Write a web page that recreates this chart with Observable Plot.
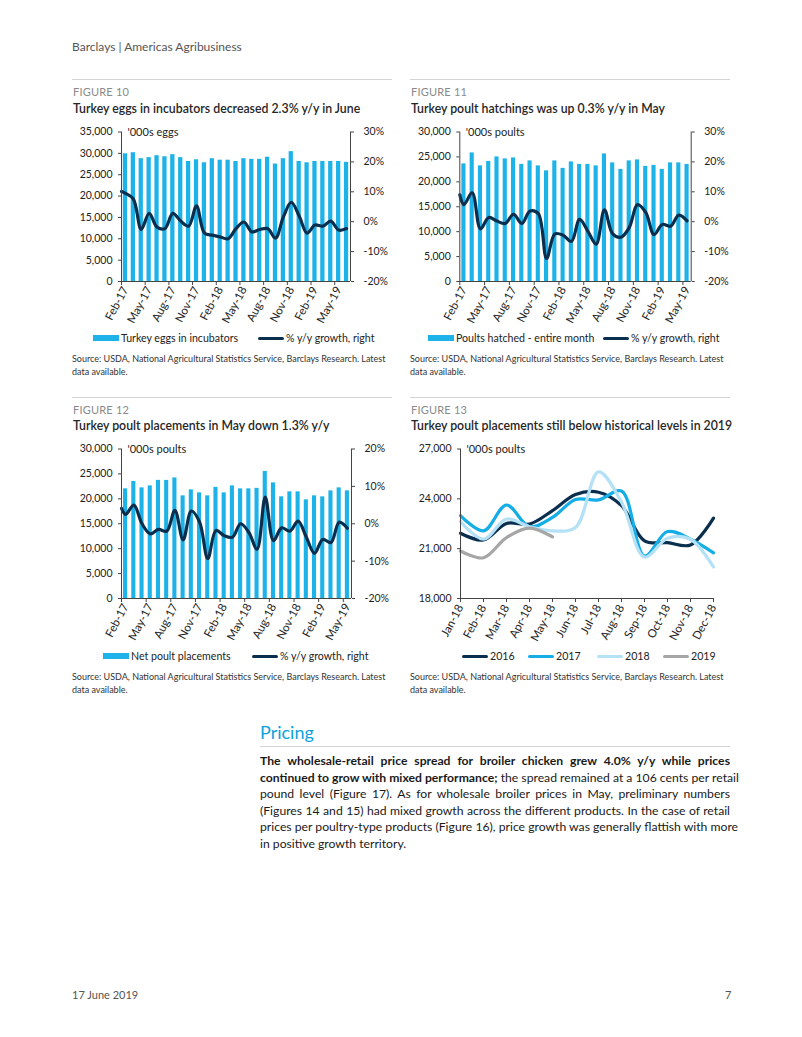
<!DOCTYPE html>
<html><head><meta charset="utf-8">
<script src="https://cdn.jsdelivr.net/npm/d3@7"></script>
<script src="https://cdn.jsdelivr.net/npm/@observablehq/plot@0.6"></script>
<style>
body{margin:0;background:#fff;}
#page{position:relative;width:802px;height:1037px;font-family:Lato,"Open Sans",sans-serif;color:#222;overflow:hidden;background:#fff}
.t{position:absolute;white-space:nowrap}
.sep{position:absolute;height:1px;background:#d4d4d4}
.chart{position:absolute}
.para{position:absolute;left:260px;width:470px;font-size:12.2px;line-height:16.6px;color:#1a1a1a}
.para div{text-align:justify;text-align-last:justify;white-space:nowrap}
.para div.last{text-align-last:left}
</style></head>
<body><div id="page"></div>
<script>
// ---------- DATA ----------
const months29 = ["Feb-17","Mar-17","Apr-17","May-17","Jun-17","Jul-17","Aug-17","Sep-17","Oct-17","Nov-17","Dec-17","Jan-18","Feb-18","Mar-18","Apr-18","May-18","Jun-18","Jul-18","Aug-18","Sep-18","Oct-18","Nov-18","Dec-18","Jan-19","Feb-19","Mar-19","Apr-19","May-19","Jun-19"];
const months28 = ["Feb-17","Mar-17","Apr-17","May-17","Jun-17","Jul-17","Aug-17","Sep-17","Oct-17","Nov-17","Dec-17","Jan-18","Feb-18","Mar-18","Apr-18","May-18","Jun-18","Jul-18","Aug-18","Sep-18","Oct-18","Nov-18","Dec-18","Jan-19","Feb-19","Mar-19","Apr-19","May-19"];
const months13 = ["Jan-18","Feb-18","Mar-18","Apr-18","May-18","Jun-18","Jul-18","Aug-18","Sep-18","Oct-18","Nov-18","Dec-18"];

// Figure 10
const eggs = [29900,30150,28750,29000,29450,29200,29700,29000,28100,28500,27800,28750,28400,28400,28100,28750,28600,28600,29100,27500,28750,30400,28100,27800,28100,28100,28100,28100,27900];
const eggsGrowthStart = 10.1;
const eggsGrowth = [9.5,7.6,-2.6,2.8,-1.8,-2.3,2.8,0.2,-1.5,5.3,-3.8,-4.5,-5.1,-5.7,-2.3,-0.1,-3.4,-2.6,-2.3,-5.5,1.6,6.5,1.9,-3.8,-1.1,-1.5,0.2,-2.8,-2.3];

// Figure 11
const hatched = [23600,25800,23200,24100,25000,24600,24800,23500,24200,23200,22200,24200,22700,24000,23500,23500,23200,25600,23800,22500,24200,24400,23100,23300,22500,23800,23800,23500];
const hatchedGrowthStart = 9.0;
const hatchedGrowth = [5.7,9.7,-2.4,1.4,0.2,-0.6,2.5,-0.6,3.6,2.7,-12.3,-4.1,-4.5,-6.6,0.8,-3.2,-7.5,4.0,-4.1,-5.2,-2.0,5.7,3.1,-4.3,-0.9,-1.5,2.2,0.3];

// Figure 12
const placed = [22000,23500,22200,22600,23700,23700,24200,20600,21800,21200,20600,22300,21200,22600,22000,22000,22100,25500,23200,20400,21400,21400,19800,20600,20400,21600,22200,21600];
const placedGrowthStart = 4.1;
const placedGrowth = [2.5,5.0,0.0,-2.7,-1.5,-2.0,3.6,-4.3,3.4,0.5,-9.3,-1.8,-3.2,-3.6,0.0,-2.3,-6.8,7.1,-4.5,-1.1,-2.0,0.7,-3.6,-7.9,-4.2,-5.0,0.4,-1.2];

// Figure 13
const years13 = ["2016","2017","2018","2019"];
const p2016 = [21930,21520,22520,22480,23290,24260,24400,23590,21470,21360,21220,22840];
const p2017 = [22990,22070,23630,22320,22880,23960,23940,24470,20550,22030,21570,20750];
const p2018 = [22640,21570,22780,22320,22070,22270,25620,23800,20490,21630,21570,19900];
const p2019 = [20860,20450,21670,22240,21710];

// ---------- STYLE ----------
const BAR = "#1DB3E8", NAVY = "#0A2E4D";
const YEAR_COLORS = ["#0A2E4D","#14ADE6","#B4E1F5","#A6A6A6"];
const FONT = "Lato, 'Open Sans', sans-serif";
const page = document.getElementById("page");

function txt(s, left, top, css) {
  const d = document.createElement("div");
  d.className = "t"; d.textContent = s;
  d.style.left = left + "px"; d.style.top = top + "px";
  Object.assign(d.style, css || {});
  page.appendChild(d); return d;
}
function sep(left, top, width) {
  const d = document.createElement("div"); d.className = "sep";
  d.style.left = left + "px"; d.style.top = top + "px"; d.style.width = width + "px";
  page.appendChild(d);
}
function swatch(left, centerY, type, color) {
  const d = document.createElement("div");
  d.style.position = "absolute"; d.style.left = left + "px"; d.style.width = "26px";
  const h = type === "bar" ? 6 : 3;
  d.style.height = h + "px"; d.style.top = (centerY - h / 2) + "px"; d.style.background = color;
  if (type === "line") d.style.borderRadius = "1.5px";
  page.appendChild(d);
}
function place(svg, left, top) {
  const w = document.createElement("div"); w.className = "chart";
  w.style.left = left + "px"; w.style.top = top + "px";
  w.appendChild(svg); page.appendChild(w);
}

const plotStyle = {fontFamily: FONT, fontSize: "10.5px", color: "#222", background: "transparent", overflow: "visible"};

function dualChart({labels, bars, growth, growthStart, barMax, barStep, gMin, gMax, unit, mLeft, mRight, barHalf}) {
  const N = labels.length;
  const toY = g => (g - gMin) / (gMax - gMin) * barMax;
  const barData = bars.map((v, i) => ({i, v}));
  const lineData = [{i: -0.5, g: growthStart}].concat(growth.map((g, i) => ({i, g})));
  const barTicks = d3.range(0, barMax + 1, barStep);
  const gTicks = d3.range(gMin, gMax + 1, 10);
  const labelIdx = d3.range(0, N, 3);
  return Plot.plot({
    width: 320, height: 205,
    marginLeft: mLeft, marginRight: mRight, marginTop: 11.5, marginBottom: 44,
    style: plotStyle,
    x: {domain: [-0.5, N - 0.5], axis: null},
    y: {domain: [0, barMax], axis: null},
    marks: [
      Plot.rectY(barData, {x1: d => d.i - barHalf, x2: d => d.i + barHalf, y: "v", fill: BAR}),
      Plot.line(lineData, {x: "i", y: d => toY(d.g), stroke: NAVY, strokeWidth: 3.2, curve: "catmull-rom", strokeLinecap: "round"}),
      Plot.ruleX([-0.5, N - 0.5], {stroke: "#444", strokeWidth: 1}),
      Plot.ruleY([0], {stroke: "#444", strokeWidth: 1}),
      Plot.axisY({anchor: "left", ticks: barTicks, tickFormat: d3.format(","), tickSize: 3, tickPadding: 6, label: null, stroke: "#444"}),
      Plot.axisY({anchor: "right", ticks: gTicks.map(toY), tickFormat: y => Math.round(gMin + y / barMax * (gMax - gMin)) + "%", tickSize: 3, tickPadding: 10, label: null, stroke: "#444"}),
      Plot.axisX({ticks: labelIdx.map(i => i - 0.5), tickFormat: () => "", tickSize: 4, label: null, stroke: "#444"}),
      Plot.axisX({ticks: labelIdx, tickFormat: i => labels[i], tickSize: 0, tickPadding: 6, tickRotate: -62, label: null, fontSize: 11.5}),
      Plot.text([unit], {frameAnchor: "top-left", dx: 6, dy: 0, lineAnchor: "middle", textAnchor: "start", fontSize: 11, fill: "#222"})
    ]
  });
}

// ---------- PAGE ----------
txt("Barclays | Americas Agribusiness", 72, 38.5, {fontSize: "12px", color: "#555"});

function header(left, top, fig, title) {
  sep(left, top, 320);
  txt(fig, left + 1, top + 6, {fontSize: "11px", color: "#8a8a8a", letterSpacing: "0.2px"});
  txt(title, left + 1, top + 21.5, {fontSize: "12.3px", color: "#262626", fontWeight: "600"});
}
function source(left, top) {
  const d = txt("", left, top, {fontSize: "9px", color: "#333", lineHeight: "13px", whiteSpace: "normal", width: "330px"});
  d.innerHTML = "Source: USDA, National Agricultural Statistics Service, Barclays Research. Latest<br>data available.";
}

// Figure 10
header(72, 79, "FIGURE 10", "Turkey eggs in incubators decreased 2.3% y/y in June");
place(dualChart({labels: months29, bars: eggs, growth: eggsGrowth, growthStart: eggsGrowthStart, barMax: 35000, barStep: 5000, gMin: -20, gMax: 30, unit: "'000s eggs", mLeft: 49, mRight: 42, barHalf: 0.27}), 72, 120);
swatch(93, 338, "bar", BAR); txt("Turkey eggs in incubators", 121, 331.5, {fontSize: "10.6px"});
swatch(258, 338, "line", NAVY); txt("% y/y growth, right", 286, 331.5, {fontSize: "10.6px"});
source(72, 351.5);

// Figure 11
header(410, 79, "FIGURE 11", "Turkey poult hatchings was up 0.3% y/y in May");
place(dualChart({labels: months28, bars: hatched, growth: hatchedGrowth, growthStart: hatchedGrowthStart, barMax: 30000, barStep: 5000, gMin: -20, gMax: 30, unit: "'000s poults", mLeft: 49.3, mRight: 39.3, barHalf: 0.25}), 410, 120);
swatch(428, 338, "bar", BAR); txt("Poults hatched - entire month", 456, 331.5, {fontSize: "10.6px"});
swatch(603, 338, "line", NAVY); txt("% y/y growth, right", 631, 331.5, {fontSize: "10.6px"});
source(410, 351.5);

// Figure 12
header(72, 396.5, "FIGURE 12", "Turkey poult placements in May down 1.3% y/y");
place(dualChart({labels: months28, bars: placed, growth: placedGrowth, growthStart: placedGrowthStart, barMax: 30000, barStep: 5000, gMin: -20, gMax: 20, unit: "'000s poults", mLeft: 49, mRight: 41, barHalf: 0.25}), 72, 437);
swatch(103, 656, "bar", BAR); txt("Net poult placements", 131, 649.5, {fontSize: "10.6px"});
swatch(252, 656, "line", NAVY); txt("% y/y growth, right", 280, 649.5, {fontSize: "10.6px"});
source(72, 669.5);

// Figure 13
header(410, 396.5, "FIGURE 13", "Turkey poult placements still below historical levels in 2019");
const series13 = [p2016, p2017, p2018, p2019];
const fig13 = Plot.plot({
  width: 320, height: 205,
  marginLeft: 50, marginRight: 16.7, marginTop: 11.5, marginBottom: 44,
  style: plotStyle,
  x: {type: "point", domain: months13, padding: 0, axis: null},
  y: {domain: [18000, 27000], axis: null},
  marks: [
    ...series13.map((vals, k) => Plot.line(vals.map((v, i) => ({m: months13[i], v})), {x: "m", y: "v", stroke: YEAR_COLORS[k], strokeWidth: 3.2, curve: "catmull-rom", strokeLinecap: "round"})),
    Plot.ruleX([months13[0]], {stroke: "#444"}),
    Plot.ruleY([18000], {stroke: "#444"}),
    Plot.axisY({anchor: "left", ticks: [18000, 21000, 24000, 27000], tickFormat: d3.format(","), tickSize: 3, tickPadding: 6, label: null, stroke: "#444"}),
    Plot.axisX({ticks: months13, tickSize: 4, tickPadding: 3, tickRotate: -62, label: null, stroke: "#444", fontSize: 11.5}),
    Plot.text(["'000s poults"], {frameAnchor: "top-left", dx: 6, lineAnchor: "middle", textAnchor: "start", fontSize: 11, fill: "#222"})
  ]
});
place(fig13, 410, 437);
const legX13 = [462, 528, 597, 663];
years13.forEach((y, k) => { swatch(legX13[k], 656, "line", YEAR_COLORS[k]); txt(y, legX13[k] + 28, 649.5, {fontSize: "10.6px"}); });
source(410, 669.5);

// Pricing section
txt("Pricing", 260, 721, {fontSize: "18px", color: "#0BA2DC"});
sep(260, 746, 470);
const para = document.createElement("div"); para.className = "para"; para.style.top = "753px";
para.innerHTML = [
  "<div><b>The wholesale-retail price spread for broiler chicken grew 4.0% y/y while prices</b></div>",
  "<div><b>continued to grow with mixed performance;</b> the spread remained at a 106 cents per retail</div>",
  "<div>pound level (Figure 17). As for wholesale broiler prices in May, preliminary numbers</div>",
  "<div>(Figures 14 and 15) had mixed growth across the different products. In the case of retail</div>",
  "<div>prices per poultry-type products (Figure 16), price growth was generally flattish with more</div>",
  "<div class='last'>in positive growth territory.</div>"
].join("");
page.appendChild(para);

// Footer
txt("17 June 2019", 72, 988, {fontSize: "11px", color: "#555"});
txt("7", 725, 988, {fontSize: "11px", color: "#555"});
</script>
</body></html>
